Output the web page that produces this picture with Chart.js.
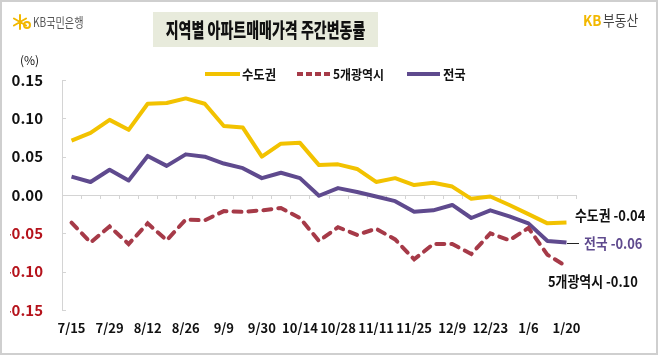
<!DOCTYPE html>
<html><head><meta charset="utf-8">
<script src="https://cdn.jsdelivr.net/npm/chart.js@4"></script>
<style>html,body{margin:0;padding:0;background:#fff;}canvas{display:block;}</style>
</head><body>
<canvas id="c" width="658" height="355"></canvas>
<script>
const weeks = ['7/15','7/22','7/29','8/5','8/12','8/19','8/26','9/2','9/9','9/23','9/30','10/7','10/14','10/21','10/28','11/4','11/11','11/18','11/25','12/2','12/9','12/16','12/23','12/30','1/6','1/13','1/20'];
const capital = [0.071,0.081,0.098,0.085,0.119,0.120,0.126,0.119,0.090,0.088,0.050,0.067,0.068,0.039,0.040,0.034,0.017,0.022,0.013,0.016,0.011,-0.005,-0.002,-0.013,-0.025,-0.037,-0.036];
const metro5 = [-0.036,-0.062,-0.041,-0.064,-0.037,-0.059,-0.032,-0.033,-0.021,-0.022,-0.020,-0.017,-0.030,-0.060,-0.042,-0.052,-0.044,-0.058,-0.084,-0.064,-0.064,-0.077,-0.050,-0.059,-0.043,-0.078,-0.093];
const nation = [0.024,0.017,0.033,0.019,0.051,0.038,0.053,0.050,0.041,0.035,0.022,0.029,0.022,-0.001,0.009,0.004,-0.002,-0.008,-0.022,-0.020,-0.013,-0.030,-0.020,-0.028,-0.037,-0.060,-0.062];
const seriesNames = ['수도권','5개광역시','전국'];
const endLabels = ['수도권 -0.04','전국 -0.06','5개광역시 -0.10'];
const titleText = '지역별 아파트매매가격 주간변동률';

const YEL = '#F2C200', RED = '#A63A48', PUR = '#5F4A8E';
const FONT = "'Noto Sans CJK KR','Noto Sans',sans-serif";

function txt(ctx, s, x, y, font, color, sx, align) {
  ctx.save();
  ctx.font = font; ctx.fillStyle = color; ctx.textBaseline = 'middle';
  ctx.textAlign = align || 'left';
  ctx.translate(x, y); ctx.scale(sx, 1);
  ctx.fillText(s, 0, 0);
  ctx.restore();
}

const deco = {
  id: 'deco',
  beforeDatasetsDraw(chart) {
    const ctx = chart.ctx, xs = chart.scales.x, ys = chart.scales.y, a = chart.chartArea;
    const y0 = ys.getPixelForValue(0);
    ctx.save();
    ctx.strokeStyle = '#d4d4d4'; ctx.lineWidth = 1;
    ctx.beginPath(); ctx.moveTo(a.left, Math.round(y0) + 0.5); ctx.lineTo(a.right, Math.round(y0) + 0.5); ctx.stroke();
    const half = (xs.getPixelForValue(1) - xs.getPixelForValue(0)) / 2;
    ctx.beginPath();
    for (let i = 0; i <= weeks.length; i++) {
      const px = Math.round(xs.getPixelForValue(i) - half) + 0.5;
      ctx.moveTo(px, Math.round(y0)); ctx.lineTo(px, Math.round(y0) + 4);
    }
    ys.ticks.forEach(t => {
      const py = Math.round(ys.getPixelForValue(t.value)) + 0.5;
      ctx.moveTo(a.left, py); ctx.lineTo(a.left + 4, py);
    });
    ctx.stroke();
    ctx.restore();
  },
  afterDraw(chart) {
    const ctx = chart.ctx;
    ctx.save();
    ctx.strokeStyle = '#cfcfcf'; ctx.lineWidth = 2; ctx.strokeRect(1, 1, 656, 353);
    ctx.fillStyle = '#E8EBDC'; ctx.fillRect(153, 12, 225, 35);
    txt(ctx, titleText, 265.5, 30, "900 20px " + FONT, '#111', 0.70, 'center');
    ctx.strokeStyle = '#F2B800'; ctx.lineWidth = 2; ctx.lineCap = 'round';
    const cx = 20, cy = 22;
    ctx.beginPath();
    for (let k = 0; k < 6; k++) {
      const ang = k * Math.PI / 3 + Math.PI / 6;
      ctx.moveTo(cx, cy); ctx.lineTo(cx + 7 * Math.cos(ang), cy + 7 * Math.sin(ang));
    }
    ctx.stroke();
    ctx.beginPath(); ctx.arc(cx + 7, cy + 3, 3, 0, Math.PI * 2); ctx.stroke();
    txt(ctx, 'KB국민은행', 33, 22, "13px " + FONT, '#555', 0.78, 'left');
    txt(ctx, 'KB', 583, 20, "bold 15px " + FONT, '#F2B800', 0.9, 'left');
    txt(ctx, '부동산', 603, 20, "15px " + FONT, '#444', 0.85, 'left');
    txt(ctx, '(%)', 20, 60, "12px " + FONT, '#111', 1, 'left');
    const ly = 74;
    ctx.lineCap = 'butt'; ctx.lineWidth = 4;
    ctx.strokeStyle = YEL; ctx.beginPath(); ctx.moveTo(205, ly); ctx.lineTo(240, ly); ctx.stroke();
    txt(ctx, seriesNames[0], 242, ly, "bold 13px " + FONT, '#111', 0.95, 'left');
    ctx.strokeStyle = RED; ctx.setLineDash([6, 3]); ctx.beginPath(); ctx.moveTo(297, ly); ctx.lineTo(332, ly); ctx.stroke();
    ctx.setLineDash([]);
    txt(ctx, seriesNames[1], 333, ly, "bold 13px " + FONT, '#111', 0.92, 'left');
    ctx.strokeStyle = PUR; ctx.beginPath(); ctx.moveTo(407, ly); ctx.lineTo(440, ly); ctx.stroke();
    txt(ctx, seriesNames[2], 443, ly, "bold 13px " + FONT, '#111', 0.95, 'left');
    txt(ctx, endLabels[0], 575, 215, "bold 15px " + FONT, '#111', 0.86, 'left');
    ctx.strokeStyle = '#222'; ctx.lineWidth = 1; ctx.beginPath(); ctx.moveTo(567, 243.5); ctx.lineTo(579, 243.5); ctx.stroke();
    txt(ctx, endLabels[1], 584, 243, "bold 15px " + FONT, PUR, 0.86, 'left');
    txt(ctx, endLabels[2], 548, 281, "bold 15px " + FONT, '#111', 0.86, 'left');
    ctx.restore();
  }
};

new Chart(document.getElementById('c'), {
  type: 'line',
  data: {
    labels: weeks,
    datasets: [
      { label: seriesNames[0], data: capital, borderColor: YEL, borderWidth: 4, pointRadius: 0, tension: 0, borderJoinStyle: 'round' },
      { label: seriesNames[1], data: metro5, borderColor: RED, borderWidth: 4, pointRadius: 0, tension: 0, borderDash: [8, 7], borderCapStyle: 'round' },
      { label: seriesNames[2], data: nation, borderColor: PUR, borderWidth: 4, pointRadius: 0, tension: 0, borderJoinStyle: 'round' }
    ]
  },
  options: {
    responsive: false, animation: false, devicePixelRatio: 1,
    layout: { padding: { left: 10, right: 82, top: 80, bottom: 0 } },
    plugins: { legend: { display: false }, tooltip: { enabled: false } },
    scales: {
      x: {
        offset: true,
        grid: { display: false, drawTicks: false },
        border: { display: false },
        afterFit(s) { s.height = 45; },
        ticks: {
          autoSkip: false, maxRotation: 0, padding: 10, color: '#111',
          font: { family: FONT, size: 13, weight: 'bold' },
          callback(v, i) { return i % 2 === 0 ? this.getLabelForValue(v) : ''; }
        }
      },
      y: {
        min: -0.15, max: 0.15,
        grid: { display: false, drawTicks: false },
        border: { display: true, color: '#d4d4d4', width: 1 },
        afterFit(s) { s.width = 52; },
        ticks: {
          stepSize: 0.05, padding: 19,
          font: { family: FONT, size: 15, weight: 'bold' },
          color: (c) => (c.tick && c.tick.value < -1e-9) ? '#B5121B' : '#111',
          callback: (v) => Math.abs(v) < 1e-9 ? '0.00' : v.toFixed(2)
        }
      }
    }
  },
  plugins: [deco]
});
</script>
</body></html>
